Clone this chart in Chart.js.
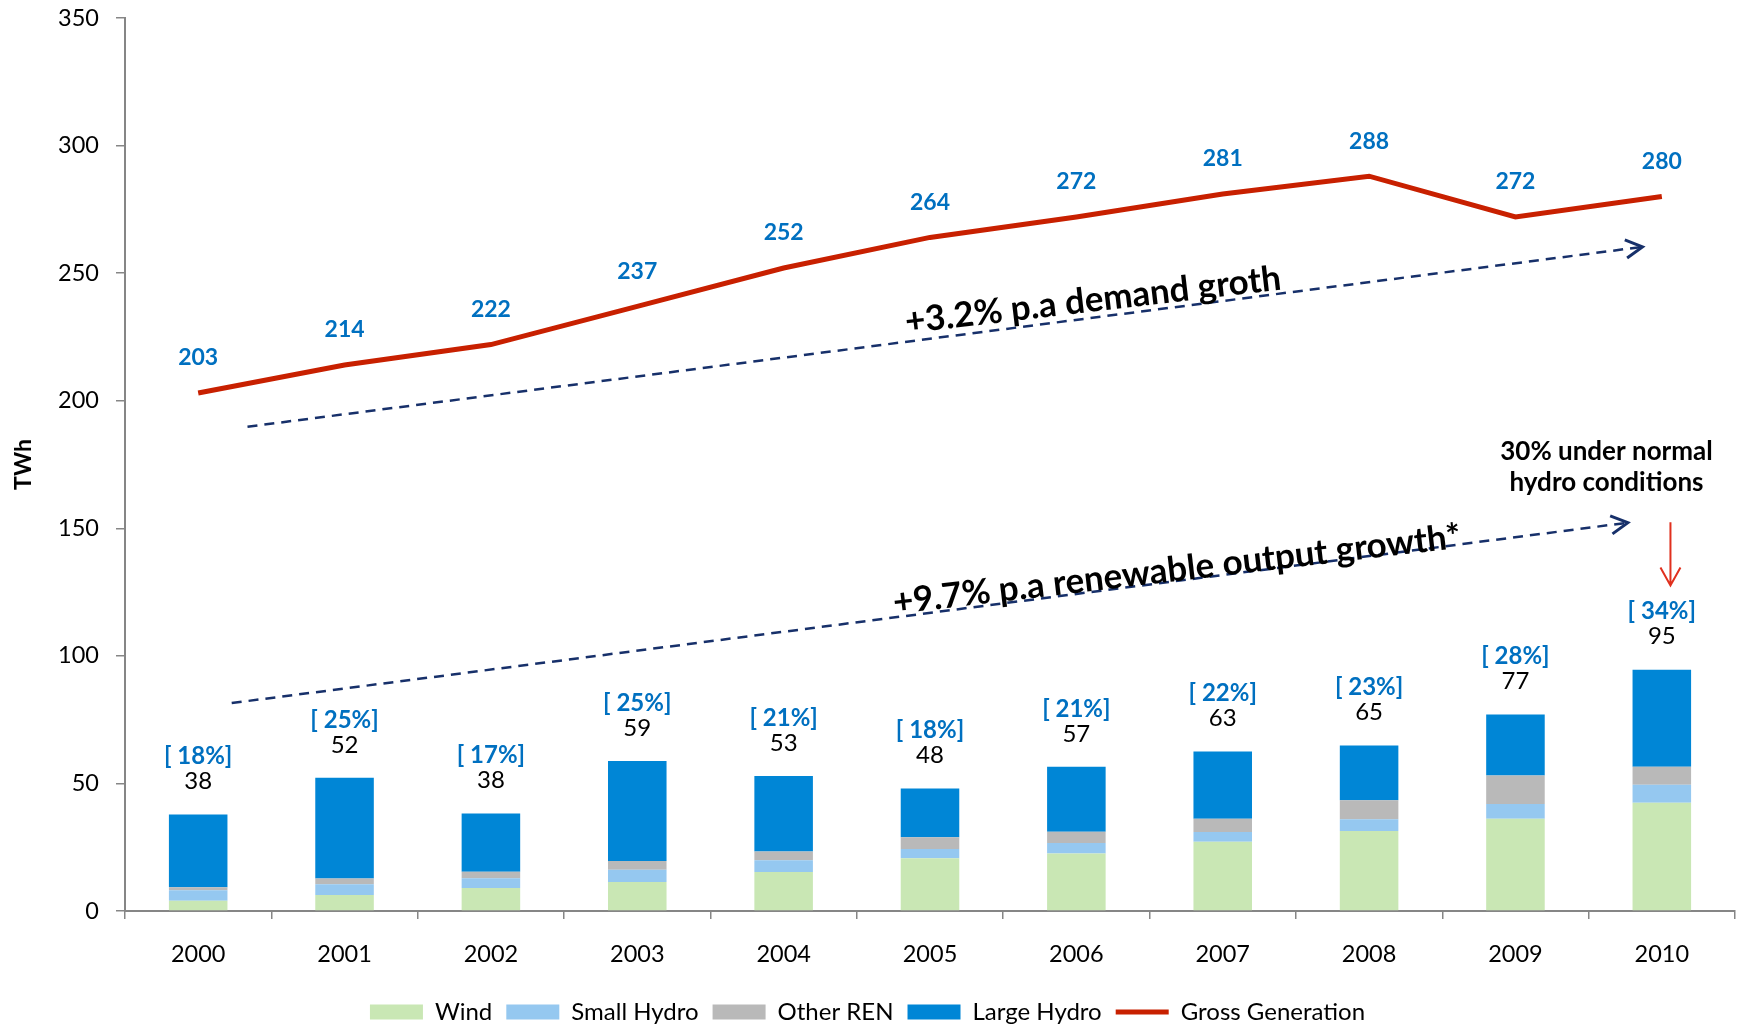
<!DOCTYPE html>
<html>
<head>
<meta charset="utf-8">
<script src="https://cdn.jsdelivr.net/npm/chart.js@4.4.1/dist/chart.umd.min.js"></script>
<style>
  html, body { margin: 0; padding: 0; background: #fff; }
  canvas { display: block; }
</style>
</head>
<body>
<canvas id="gen-chart" width="1748" height="1026"></canvas>
<script>
// Chart data (TWh)
const years = ['2000', '2001', '2002', '2003', '2004', '2005', '2006', '2007', '2008', '2009', '2010'];
const wind = [4.0, 6.3, 9.0, 11.4, 15.3, 20.7, 22.5, 27.1, 31.4, 36.2, 42.4];
const smallHydro = [4.1, 4.2, 3.8, 4.8, 4.6, 3.6, 4.2, 3.9, 4.6, 5.7, 7.1];
const otherRen = [1.2, 2.2, 2.6, 3.4, 3.4, 4.6, 4.4, 5.2, 7.4, 11.2, 7.0];
const largeHydro = [28.5, 39.5, 22.8, 39.2, 29.6, 19.1, 25.4, 26.3, 21.5, 23.9, 38.1];
const grossGeneration = [203, 214, 222, 237, 252, 264, 272, 281, 288, 272, 280];
const renewableTotals = [38, 52, 38, 59, 53, 48, 57, 63, 65, 77, 95];
const renewableShare = [18, 25, 17, 25, 21, 18, 21, 22, 23, 28, 34];
const yTicks = [0, 50, 100, 150, 200, 250, 300, 350];

const FONT = 'Lato, "Open Sans", "DejaVu Sans", sans-serif';
const BLUE_LABEL = '#0070C0';
const NAVY = '#17306a';
const AXIS_GREY = '#868686';

// Draws the value labels, trend arrows and notes on top of the datasets
const overlayPlugin = {
    id: 'overlay',
    afterDatasetsDraw(chart) {
        const ctx = chart.ctx;
        const xs = chart.scales.x;
        const ys = chart.scales.y;
        const px = (v) => xs.getPixelForValue(v);
        const py = (v) => ys.getPixelForValue(v);

        ctx.save();
        ctx.textAlign = 'center';
        ctx.textBaseline = 'middle';

        // renewable totals and shares above the stacks
        const topMeta = chart.getDatasetMeta(3);
        topMeta.data.forEach((bar, i) => {
            ctx.fillStyle = '#000';
            ctx.font = '24px ' + FONT;
            ctx.fillText(String(renewableTotals[i]), bar.x, bar.y - 33);
            ctx.fillStyle = BLUE_LABEL;
            ctx.font = 'bold 24px ' + FONT;
            ctx.fillText('[ ' + renewableShare[i] + '%]', bar.x, bar.y - 58);
        });

        // gross generation labels
        const lineMeta = chart.getDatasetMeta(4);
        lineMeta.data.forEach((pt, i) => {
            ctx.fillStyle = BLUE_LABEL;
            ctx.font = 'bold 23px ' + FONT;
            ctx.fillText(String(grossGeneration[i]), pt.x, pt.y - 35);
        });

        // dashed trend arrows
        function trendArrow(x0, y0, x1, y1) {
            const ax = px(x0), ay = py(y0), bx = px(x1), by = py(y1);
            ctx.strokeStyle = NAVY;
            ctx.lineWidth = 2.5;
            ctx.setLineDash([10, 7]);
            ctx.beginPath();
            ctx.moveTo(ax, ay);
            ctx.lineTo(bx, by);
            ctx.stroke();
            ctx.setLineDash([]);
            const ang = Math.atan2(by - ay, bx - ax);
            const len = 19, spread = 0.5;
            ctx.beginPath();
            ctx.moveTo(bx - len * Math.cos(ang - spread), by - len * Math.sin(ang - spread));
            ctx.lineTo(bx, by);
            ctx.lineTo(bx - len * Math.cos(ang + spread), by - len * Math.sin(ang + spread));
            ctx.lineWidth = 3;
            ctx.stroke();
        }
        trendArrow(0.337, 189.8, 9.868, 260.3);
        trendArrow(0.229, 81.5, 9.768, 152.2);

        function tiltedText(text, xv, yv, deg, size) {
            ctx.save();
            ctx.translate(px(xv), py(yv));
            ctx.rotate(deg * Math.PI / 180);
            ctx.fillStyle = '#000';
            ctx.font = 'bold ' + size + 'px ' + FONT;
            ctx.fillText(text, 0, 0);
            ctx.restore();
        }
        tiltedText('+3.2% p.a demand groth', 6.113, 239.4, -6.7, 35);
        tiltedText('+9.7% p.a renewable output growth*', 6.687, 133.8, -6.7, 35);

        // note about normal hydro year
        ctx.fillStyle = '#000';
        ctx.font = 'bold 26px ' + FONT;
        ctx.fillText('30% under normal', px(9.622), py(180.1));
        ctx.fillText('hydro conditions', px(9.622), py(167.9));

        // red arrow pointing at the 2010 share
        const rx = px(10.059), ry0 = py(152.4), ry1 = py(127.6);
        ctx.strokeStyle = '#e0301e';
        ctx.lineWidth = 2;
        ctx.beginPath();
        ctx.moveTo(rx, ry0);
        ctx.lineTo(rx, ry1);
        ctx.moveTo(rx - 10, ry1 - 18);
        ctx.lineTo(rx, ry1);
        ctx.lineTo(rx + 10, ry1 - 18);
        ctx.stroke();

        ctx.restore();
    }
};

const ctx = document.getElementById('gen-chart').getContext('2d');
const chart = new Chart(ctx, {
    type: 'bar',
    data: {
        labels: years,
        datasets: [
            { label: 'Wind', data: wind, backgroundColor: '#c9e7b4', pointStyle: 'rect' },
            { label: 'Small Hydro', data: smallHydro, backgroundColor: '#95c8f0', pointStyle: 'rect' },
            { label: 'Other REN', data: otherRen, backgroundColor: '#b9b9b9', pointStyle: 'rect' },
            { label: 'Large Hydro', data: largeHydro, backgroundColor: '#0086d6', pointStyle: 'rect' },
            {
                type: 'line',
                label: 'Gross Generation',
                data: grossGeneration,
                stack: 'gross',
                borderColor: '#c82000',
                backgroundColor: '#c82000',
                borderWidth: 5,
                pointRadius: 0,
                pointStyle: 'line',
                pointBorderColor: '#c82000',
                pointBorderWidth: 5,
                tension: 0,
                fill: false
            }
        ]
    },
    options: {
        responsive: false,
        animation: false,
        events: [],
        layout: { padding: { top: 18, right: 13, left: 0, bottom: -8 } },
        datasets: {
            bar: { categoryPercentage: 0.8, barPercentage: 0.5 }
        },
        scales: {
            x: {
                stacked: true,
                offset: true,
                grid: {
                    offset: true,
                    drawOnChartArea: false,
                    drawTicks: true,
                    tickLength: 8,
                    color: AXIS_GREY,
                    lineWidth: 1.5
                },
                border: { color: AXIS_GREY, width: 2 },
                ticks: { color: '#000', font: { family: FONT, size: 23.5 }, padding: 21 },
                afterFit: (scale) => { scale.height = 75; }
            },
            y: {
                stacked: true,
                min: 0,
                max: 350,
                afterBuildTicks: (scale) => { scale.ticks = yTicks.map(v => ({ value: v })); },
                grid: {
                    drawOnChartArea: false,
                    drawTicks: true,
                    tickLength: 9,
                    color: AXIS_GREY,
                    lineWidth: 1.5
                },
                border: { color: AXIS_GREY, width: 2 },
                ticks: { color: '#000', font: { family: FONT, size: 23.5 }, padding: 17 },
                title: {
                    display: true,
                    text: 'TWh',
                    color: '#000',
                    font: { family: FONT, size: 23, weight: 'bold' },
                    padding: { top: 10, bottom: 0 }
                },
                afterFit: (scale) => {
                    scale.width = 125;
                    scale.paddingTop = 0;
                    scale.paddingBottom = 0;
                }
            }
        },
        plugins: {
            legend: {
                position: 'bottom',
                labels: {
                    usePointStyle: true,
                    pointStyleWidth: 53,
                    boxHeight: 15,
                    padding: 14,
                    color: '#000',
                    font: { family: FONT, size: 24 }
                }
            },
            tooltip: { enabled: false }
        }
    },
    plugins: [overlayPlugin]
});
</script>
</body>
</html>
